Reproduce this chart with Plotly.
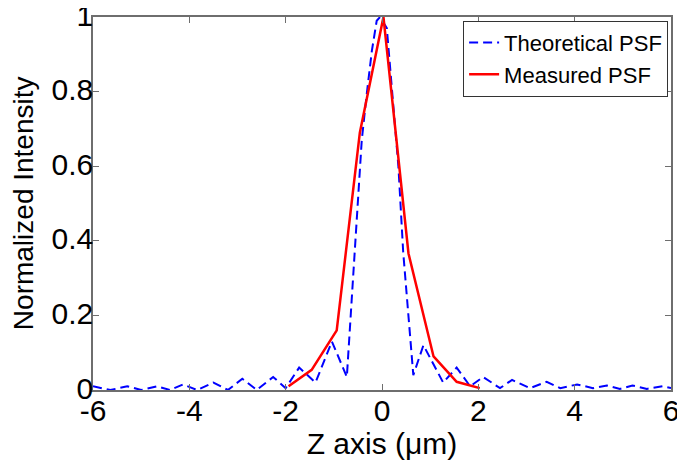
import plotly.graph_objects as go

# Theoretical PSF (dashed blue)
theo_z = [-6.0, -5.64, -5.29, -5.0, -4.67, -4.4, -4.13, -3.84, -3.5, -3.2, -2.9, -2.6,
          -2.26, -2.0, -1.72, -1.38, -1.04, -0.73, -0.63, -0.53, -0.42, -0.32, -0.21,
          -0.11, -0.04, 0.1, 0.23, 0.34, 0.44, 0.55, 0.65, 0.86, 1.27, 1.55, 1.83, 2.1,
          2.45, 2.7, 3.07, 3.42, 3.7, 4.05, 4.38, 4.67, 4.94, 5.2, 5.5, 5.83, 6.0]
theo_i = [0.01, 0.0, 0.01, 0.0, 0.01, 0.0, 0.015, 0.0, 0.02, 0.0, 0.03, 0.0,
          0.035, 0.005, 0.06, 0.02, 0.13, 0.035, 0.24, 0.46, 0.67, 0.79, 0.91,
          0.99, 1.0, 0.97, 0.78, 0.6, 0.37, 0.2, 0.04, 0.12, 0.02, 0.06, 0.01, 0.035,
          0.005, 0.027, 0.005, 0.022, 0.005, 0.015, 0.005, 0.012, 0.003, 0.012, 0.003, 0.01, 0.005]

# Measured PSF (solid red)
meas_z = [-1.94, -1.46, -0.94, -0.46, 0.03, 0.55, 1.07, 1.55, 2.03]
meas_i = [0.01, 0.054, 0.16, 0.69, 1.0, 0.366, 0.09, 0.022, 0.005]

x_ticks = [-6, -4, -2, 0, 2, 4, 6]
y_ticks = [0, 0.2, 0.4, 0.6, 0.8, 1]
y_tick_text = ["0", "0.2", "0.4", "0.6", "0.8", "1"]
x_title = "Z axis (\u03bcm)"
y_title = "Normalized Intensity"

FONT = "Liberation Sans, Arial"

fig = go.Figure()
fig.add_trace(go.Scatter(x=theo_z, y=theo_i, mode="lines", name="Theoretical PSF",
                         line=dict(color="#0000ff", width=2, dash="9px,5px")))
fig.add_trace(go.Scatter(x=meas_z, y=meas_i, mode="lines", name="Measured PSF",
                         line=dict(color="#ff0000", width=2.5)))

axis_common = dict(showgrid=False, zeroline=False, showline=True, linecolor="#6e6e6e",
                   linewidth=1.5, mirror="ticks", ticks="inside", ticklen=6,
                   tickcolor="#6e6e6e", tickwidth=1, automargin=True,
                   ticklabeloverflow="allow",
                   tickfont=dict(family=FONT, size=30, color="black"))

fig.update_xaxes(range=[-6, 6], tickvals=x_ticks, ticktext=[str(v) for v in x_ticks],
                 ticklabelstandoff=-7,
                 title=dict(text=x_title, standoff=0,
                            font=dict(family=FONT, size=30, color="black")),
                 **axis_common)
fig.update_yaxes(range=[0, 1], tickvals=y_ticks, ticktext=y_tick_text,
                 ticklabelstandoff=-8, ticklabelshift=-2, **axis_common)

# y-axis title placed as a rotated annotation for exact positioning
fig.add_annotation(text=y_title, xref="paper", yref="paper", x=-0.12, y=0.5,
                   xanchor="center", yanchor="middle", textangle=-90, showarrow=False,
                   font=dict(family=FONT, size=28, color="black"))

# page has an 8px body margin: figure is 677x459 placed at (8, 8)
fig.update_layout(
    width=677, height=459,
    margin=dict(l=85, r=14, t=9, b=77, autoexpand=False),
    paper_bgcolor="white", plot_bgcolor="white",
    font=dict(family=FONT, color="black"),
    legend=dict(x=0.995, y=0.99, xanchor="right", yanchor="top",
                bgcolor="white", bordercolor="#333333", borderwidth=1,
                font=dict(family=FONT, size=22, color="black"),
                tracegroupgap=0, itemwidth=30),
    showlegend=True,
)

fig.write_html("out.html")
